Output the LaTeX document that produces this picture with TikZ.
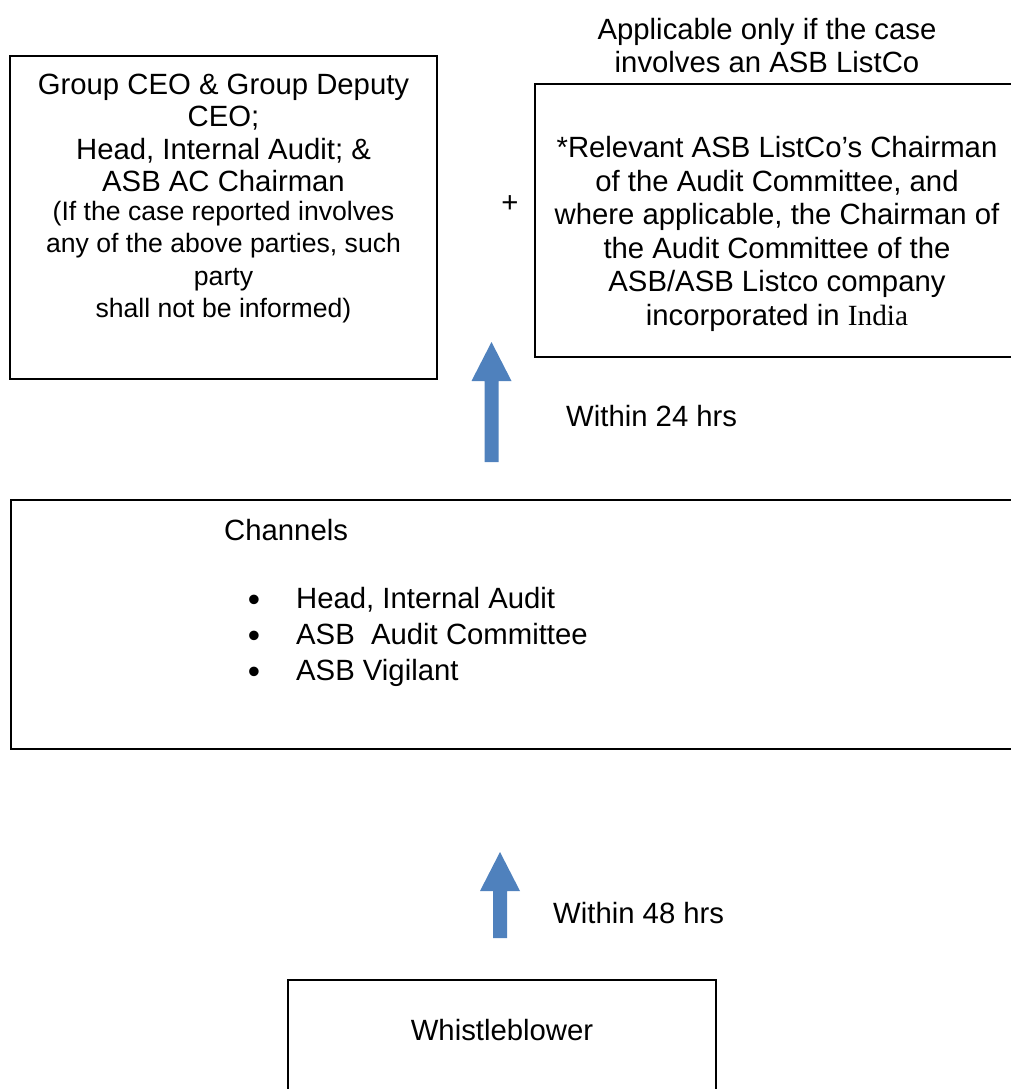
\documentclass[tikz,border=0pt]{standalone}
\usepackage{fontspec}
\setmainfont{Liberation Sans}
\newfontfamily\timesfont{Liberation Serif}
\definecolor{arrowblue}{RGB}{79,129,189}
\tikzset{
  box/.style={draw, line width=1.4pt, inner sep=0pt},
  txt/.style={align=center, inner sep=0pt, font=\fontsize{29.3}{33}\selectfont},
  smalltxt/.style={align=center, inner sep=0pt, font=\fontsize{26.6}{32.3}\selectfont},
  bulletmark/.style={inner sep=0pt, anchor=base, font=\fontsize{35}{35}\selectfont}
}

\begin{document}
\begin{tikzpicture}[x=1pt,y=-1pt]
    \useasboundingbox (0,0) rectangle (1011,1089);
    \clip (0,0) rectangle (1011,1089);
    % boxes
    \node[box, minimum width=427, minimum height=323] (ceo) at (223.5,217.5) {};
    \node[box, minimum width=490, minimum height=273] (listco) at (780,220.5) {};
    \node[box, minimum width=1014, minimum height=249] (channels) at (518,624.5) {};
    \node[box, minimum width=428, minimum height=140] (whistle) at (502,1050) {};
    % texts
    \node[txt] (applicable) at (767,45.5) {Applicable only if the case\\involves an ASB ListCo};
    \node[txt, font=\fontsize{29.3}{32.3}\selectfont] (ceohead) at (223.5,133) {Group CEO \& Group Deputy\\CEO;\\Head, Internal Audit; \&\\ASB AC Chairman};
    \node[smalltxt] (ceonote) at (223.5,262) {(If the case reported involves\\any of the above parties, such\\party\\shall not be informed)};
    \node[txt] (plus) at (510,204) {+};
    \node[txt, font=\fontsize{29.3}{33.6}\selectfont] (listcotext) at (777,234)
        {*Relevant ASB ListCo’s Chairman\\of the Audit Committee, and\\where applicable, the Chairman of\\the Audit Committee of the\\ASB/ASB Listco company\\incorporated in {\timesfont India}};
    \node[txt, anchor=base west] (within24) at (566,426.5) {Within 24 hrs};
    \node[txt, anchor=base west] (channelslabel) at (224,540.5) {Channels};
    \foreach \name [count=\i] in {{Head, Internal Audit}, {ASB~~Audit Committee}, {ASB Vigilant}} {
        \node[bulletmark] (bullet\i) at (254,{575.5+36*\i}) {•};
        \node[txt, anchor=base west] (item\i) at (296,{572.5+36*\i}) {\name};
    }
    \node[txt, anchor=base west] (within48) at (553,923.5) {Within 48 hrs};
    \node[txt] (whistletext) at (502,1030) {Whistleblower};
    % block arrows
    \coordinate (a1foot) at (491.5,462);
    \coordinate (a1tip) at (491.5,342);
    \fill[arrowblue] (a1foot) ++(-7,0) -- ++(0,-81) -- ++(-13,0) -- (a1tip) -- ++(20,39) -- ++(-13,0) -- ++(0,81) -- cycle;
    \coordinate (a2foot) at (500,938);
    \coordinate (a2tip) at (500,852);
    \fill[arrowblue] (a2foot) ++(-7,0) -- ++(0,-47) -- ++(-13,0) -- (a2tip) -- ++(20,39) -- ++(-13,0) -- ++(0,47) -- cycle;
\end{tikzpicture}
\end{document}
